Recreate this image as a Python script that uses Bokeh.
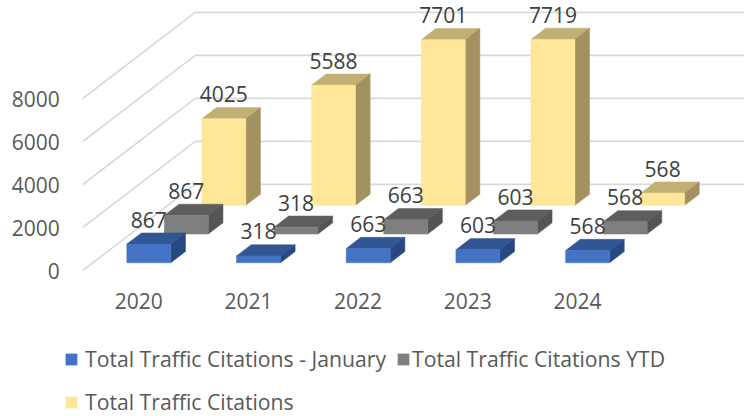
from bokeh.plotting import figure
from bokeh.models import Range1d, LinearAxis, FixedTicker, Legend, LegendItem, ColumnDataSource
from bokeh.core.properties import value
from bokeh.embed import file_html
from bokeh.resources import INLINE

years = ["2020", "2021", "2022", "2023", "2024"]
january = [867, 318, 663, 603, 568]
ytd = [867, 318, 663, 603, 568]
total = [4025, 5588, 7701, 7719, 568]
y_ticks = [0, 2000, 4000, 6000, 8000]
names = ["Total Traffic Citations - January", "Total Traffic Citations YTD", "Total Traffic Citations"]
fills = [("#4472C4", "#325694", "#274880"), ("#7F7F7F", "#5E5E5E", "#545454"), ("#FFE699", "#C2AF73", "#A39260")]

FONT = "Open Sans"
W, H = 744, 415
PX_X = 109.7           # px per category
PX_Y = 43 / 2000       # px per value unit
X0, Y0 = 138.2, 270    # px of category 0 / value 0 inside the figure

ZX, ZY = 37.5 / PX_X, 28.7 / PX_Y   # oblique shift per depth row
BAR_W = 44 / PX_X
BAR_D = 0.39
BACK = 3.0


def proj(x, v, z):
    return x + z * ZX, v + z * ZY


p = figure(width=W, height=H, output_backend="svg", toolbar_location=None,
           x_range=Range1d(-X0 / PX_X, (W - X0) / PX_X),
           y_range=Range1d((Y0 - H) / PX_Y, Y0 / PX_Y),
           x_axis_location=None, y_axis_location=None, min_border=0,
           outline_line_color=None, background_fill_color="white")
p.grid.visible = False

# walls' gridlines
gx, gy = [], []
for t in y_ticks:
    a = proj(-0.51, t, 0)
    b = proj(-0.51, t, BACK)
    c = proj(4.5, t, BACK)
    gx.append([a[0], b[0], c[0]])
    gy.append([a[1], b[1], c[1]])
p.multi_line(gx, gy, line_color="#D9D9D9", line_width=1.6)

# axes
ya = LinearAxis(fixed_location=-0.5, ticker=FixedTicker(ticks=y_ticks))
ya.axis_line_color = None
ya.major_tick_line_color = None
ya.minor_tick_line_color = None
ya.major_label_text_font = FONT
ya.major_label_text_font_size = "21px"
ya.major_label_text_color = "#595959"
ya.major_label_standoff = 18
p.add_layout(ya, "left")

xa = LinearAxis(fixed_location=0, ticker=FixedTicker(ticks=list(range(len(years)))),
                major_label_overrides={i: y for i, y in enumerate(years)})
xa.axis_line_color = None
xa.major_tick_line_color = None
xa.minor_tick_line_color = None
xa.major_label_text_font = FONT
xa.major_label_text_font_size = "21px"
xa.major_label_text_color = "#595959"
xa.major_label_standoff = 16
p.add_layout(xa, "below")

# bars, back row first
series = [january, ytd, total]
rows = [0.27, 1.27, 2.27]
front_r = {}
for s in (2, 1, 0):
    vals, z0 = series[s], rows[s]
    cf, ct, cs = fills[s]
    z1 = z0 + BAR_D
    L, R, B, T = [], [], [], []
    tx, ty, sx, sy = [], [], [], []
    for i, v in enumerate(vals):
        l, r = i - BAR_W / 2, i + BAR_W / 2
        x0l, y0b = proj(l, 0, z0)
        x0r, y0t = proj(r, v, z0)
        L.append(x0l); R.append(x0r); B.append(y0b); T.append(y0t)
        pts = [proj(l, v, z0), proj(r, v, z0), proj(r, v, z1), proj(l, v, z1)]
        tx.append([q[0] for q in pts]); ty.append([q[1] for q in pts])
        pts = [proj(r, 0, z0), proj(r, v, z0), proj(r, v, z1), proj(r, 0, z1)]
        sx.append([q[0] for q in pts]); sy.append([q[1] for q in pts])
    p.patches(tx, ty, fill_color=ct, line_color=ct, line_width=0.5)
    p.patches(sx, sy, fill_color=cs, line_color=cs, line_width=0.5)
    front_r[s] = p.quad(left=L, right=R, bottom=B, top=T, fill_color=cf, line_color=cf, line_width=0.5)

# data labels above everything
for s in (2, 1, 0):
    vals, z0 = series[s], rows[s]
    xs = [proj(i, v, z0)[0] for i, v in enumerate(vals)]
    ys = [proj(i, v, z0)[1] for i, v in enumerate(vals)]
    src = ColumnDataSource(dict(x=xs, y=ys, t=[str(v) for v in vals]))
    p.text("x", "y", text="t", source=src, text_font=value(FONT), text_font_size="21px",
           text_color="#404040", text_align="center", text_baseline="middle", y_offset=-24.5)


def legend(i, loc, standoff):
    lg = Legend(items=[LegendItem(label=value(names[i]), renderers=[front_r[i]])],
                orientation="horizontal", location=loc, padding=0, margin=0, spacing=0,
                glyph_width=14, glyph_height=14, label_standoff=standoff,
                label_text_font=FONT, label_text_font_size="21.2px", label_text_color="#595959",
                background_fill_alpha=0, border_line_alpha=0)
    p.add_layout(lg, "center")


legend(0, (64, 42), 7)
legend(1, (396, 42), 2)
legend(2, (64, -1), 7)

open("out.html", "w").write(file_html(p, INLINE))
